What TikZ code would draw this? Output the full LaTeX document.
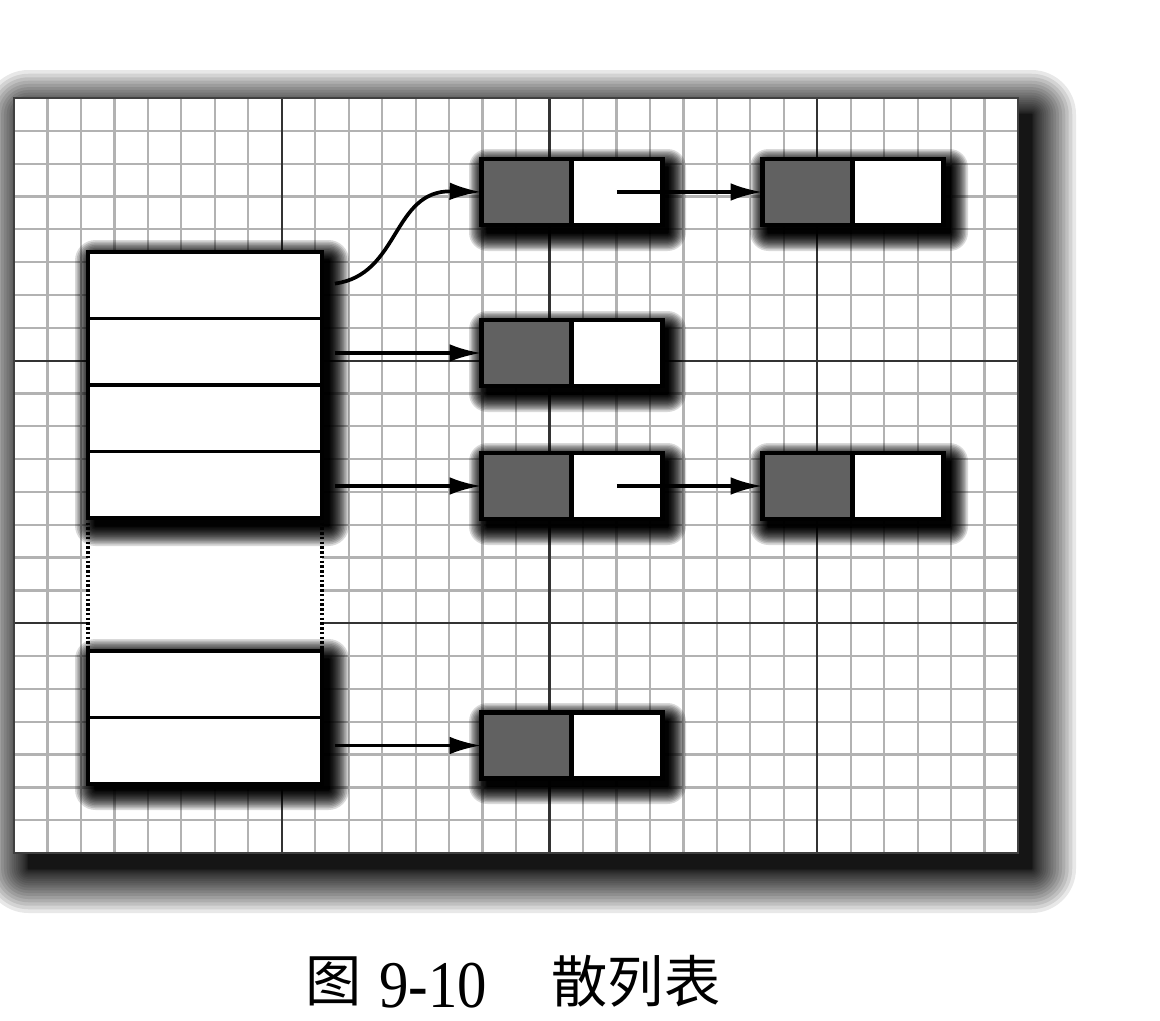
\documentclass[tikz,border=0pt]{standalone}
\usepackage{fontspec}
\usepackage{graphicx}
\setmainfont{Liberation Serif}
\newfontfamily\cjk{Noto Sans CJK SC}
\usetikzlibrary{arrows.meta}
\newcommand\softshadow[8]{%
  \foreach \i in {0,...,23}{%
    \pgfmathsetmacro\s{#7*(1-\i/23)*(1-\i/23)}%
    \pgfmathsetmacro\r{0.02*\s+0.01}%
    \fill[black,opacity=#8,rounded corners=\r cm] ({#1+#5-\s},{#2+#6-\s}) rectangle ({#3+#5+\s},{#4+#6+\s});
  }}
\begin{document}
\begin{tikzpicture}[x=0.02cm,y=-0.02cm,
  keycell/.style={draw=black,line width=2.6pt,fill=black!62,minimum width=1.81cm,minimum height=1.32cm,inner sep=0pt,outer sep=0pt},
  valcell/.style={draw=black,line width=2.6pt,fill=white,minimum width=1.81cm,minimum height=1.32cm,inner sep=0pt,outer sep=0pt},
  tabrow/.style={draw=black,line width=2.2pt,fill=white,minimum width=4.68cm,minimum height=1.33cm,inner sep=0pt,outer sep=0pt},
  arr/.style={line width=2.1pt,-{Latex[length=18pt,width=10pt]}},
  tarr/.style={arr,shorten <=0.26cm},
  fine/.style={black!30,line width=1.3pt},
  major/.style={black!80,line width=1.2pt},
  dotline/.style={line width=2pt,dash pattern=on 1.4pt off 1.3pt},
]
\useasboundingbox (0,0) rectangle (1160,1021);
\fill[white] (0,0) rectangle (1160,1021);

% panel shadow and panel
\softshadow{14}{98}{1018}{853}{14}{16}{44}{0.09}
\fill[white] (14,98) rectangle (1018,853);
\foreach \k in {0,...,30}{\draw[fine] ({14+\k*33.47},98) -- ({14+\k*33.47},853);}
\foreach \j in {0,...,23}{\draw[fine] (14,{98+\j*32.83}) -- (1018,{98+\j*32.83});}
\foreach \k in {8,16,24}{\draw[major] ({14+\k*33.47},98) -- ({14+\k*33.47},853);}
\foreach \j in {8,16}{\draw[major] (14,{98+\j*32.83}) -- (1018,{98+\j*32.83});}
\draw[black!75,line width=1.2pt] (14,98) rectangle (1018,853);

% gap of the table
\fill[white] (88,518) rectangle (322,651);

% shadows of table and boxes
\softshadow{88}{252}{322}{518}{7}{8}{20}{0.15}
\softshadow{88}{651}{322}{782}{7}{8}{20}{0.15}
\softshadow{481}{159}{662}{225}{6}{8}{18}{0.15}
\softshadow{762}{159}{944}{225}{6}{8}{18}{0.15}
\softshadow{481}{321}{662}{386}{6}{8}{18}{0.15}
\softshadow{481}{453}{662}{519}{6}{8}{18}{0.15}
\softshadow{762}{453}{944}{519}{6}{8}{18}{0.15}
\softshadow{481}{713}{662}{778}{6}{8}{18}{0.15}

% table
\node[tabrow] (t1) at (205,285.25) {};
\node[tabrow,anchor=north] (t2) at (t1.south) {};
\node[tabrow,anchor=north] (t3) at (t2.south) {};
\node[tabrow,anchor=north] (t4) at (t3.south) {};
\node[tabrow] (t5) at (205,684.25) {};
\node[tabrow,anchor=north] (t6) at (t5.south) {};
\draw[dotline] (t4.south west) -- (t5.north west);
\draw[dotline] (t4.south east) -- (t5.north east);

% entries
\node[keycell] (k1) at (526.5,192) {};
\node[valcell,anchor=west] (v1) at (k1.east) {};
\node[keycell] (k1b) at (807.5,192) {};
\node[valcell,anchor=west] (v1b) at (k1b.east) {};
\node[keycell] (k2) at (526.5,353) {};
\node[valcell,anchor=west] (v2) at (k2.east) {};
\node[keycell] (k3) at (526.5,486) {};
\node[valcell,anchor=west] (v3) at (k3.east) {};
\node[keycell] (k3b) at (807.5,486) {};
\node[valcell,anchor=west] (v3b) at (k3b.east) {};
\node[keycell] (k4) at (526.5,745.5) {};
\node[valcell,anchor=west] (v4) at (k4.east) {};

% connectors
\draw[tarr] (t1.east) .. controls (400,275) and (392,190) .. (k1.west);
\draw[tarr] (k2.west -| t2.east) -- (k2.west);
\draw[tarr] (k3.west -| t4.east) -- (k3.west);
\draw[tarr] (k4.west -| t6.east) -- (k4.west);
\draw[arr] (v1.center) -- (k1b.west);
\draw[arr] (v3.center) -- (k3b.west);

% caption
\node (capfig) at (334,981) {\cjk\fontsize{32pt}{36pt}\selectfont 图};
\node[anchor=base] (capnum) at (433,1007) {\fontsize{38pt}{40pt}\selectfont\scalebox{0.88}[1]{9-10}};
\node (captitle) at (636,981) {\cjk\fontsize{32pt}{36pt}\selectfont 散列表};
\end{tikzpicture}
\end{document}
